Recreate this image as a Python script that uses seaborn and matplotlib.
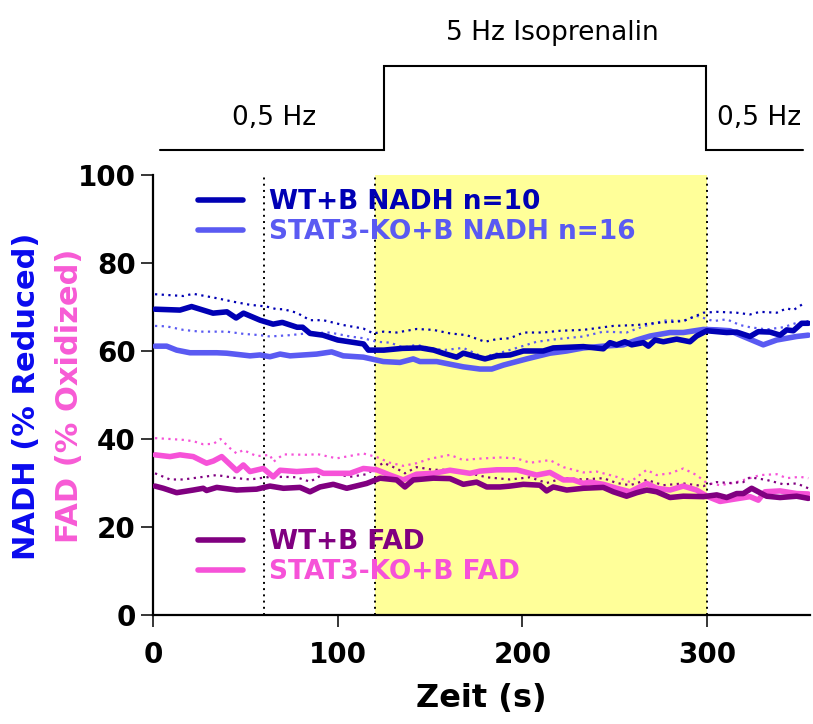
import matplotlib
matplotlib.use("Agg")
import matplotlib.pyplot as plt
import seaborn as sns
import pandas as pd

# ---------------- data ----------------
wt_nadh_t = [1.1, 14.6, 20.9, 32.5, 40, 45, 49, 58, 65, 70, 78, 81, 85, 92, 100, 114, 116.6, 125, 135, 145,
             152, 157, 164.4, 168, 179.7, 186.1, 193.3, 200.5, 211.3, 216.7, 233, 243.8, 247.4, 251, 255.5,
             259.2, 265.5, 268.2, 271.8, 276.3, 283.5, 290.7, 294.3, 299.8, 310.6, 316, 323.2, 327.7, 334.1,
             339.5, 343.1, 346.7, 351.2, 354.8]
wt_nadh = [69.5, 69.3, 70.1, 68.6, 68.9, 67.5, 68.6, 67, 66.1, 66.5, 65.4, 65.4, 64, 63.6, 62.5, 61.6, 60.2,
           60.2, 60.6, 60.7, 60.2, 59.5, 58.6, 59.5, 58.2, 58.9, 59.1, 60, 60, 60.7, 61, 60.5, 61.9, 61.4,
           62.1, 61.4, 61.9, 61.1, 62.5, 62.1, 62.7, 62.1, 63.4, 64.6, 64.2, 64.3, 63.3, 64.4, 64.3, 63.6,
           64.8, 64.6, 66.3, 66.3]

stat_nadh_t = [1.1, 7.4, 12.8, 20, 34.5, 39.9, 52.5, 57.9, 63.3, 68.8, 74.2, 88.6, 96.7, 103, 113.9, 124.7,
               133.7, 140.9, 144.5, 153.6, 168, 177, 183.4, 189.7, 202.3, 214.9, 224, 233, 243.8, 254.6,
               261.9, 269.1, 279.9, 287.1, 298, 305.2, 312.4, 319.6, 330.4, 337.7, 348.5, 354.8]
stat_nadh = [61.1, 61.1, 60.2, 59.6, 59.6, 59.5, 58.9, 59.1, 58.7, 59.3, 58.9, 59.3, 59.8, 58.9, 58.6, 57.6,
             57.4, 58.2, 57.6, 57.6, 56.4, 55.9, 55.9, 56.8, 58.2, 59.5, 60, 60.7, 61.1, 61.4, 62.5, 63.4,
             64.2, 64.2, 64.9, 64.8, 64.6, 63.3, 61.4, 62.5, 63.3, 63.6]

wt_nadh_up_t = [1.1, 16.4, 21.8, 34.5, 43.5, 52.5, 61.5, 66.9, 70.6, 77.8, 85, 92.2, 103, 113.9, 119.3, 124.7,
                131.9, 142.7, 151.8, 160.8, 169.8, 179.7, 186.1, 193.3, 200.5, 211.3, 220.4, 233, 249.2,
                261.9, 272.7, 287.1, 298, 305.2, 316, 323.2, 328.6, 337.7, 343.1, 346.7, 353]
wt_nadh_up = [72.9, 72.5, 73, 72, 71.2, 70.5, 70.1, 69.5, 69.5, 68.7, 67, 67, 65.9, 65.1, 64, 64.4, 64.2, 65,
              64.8, 64, 63.6, 62.1, 62.7, 62.9, 64.2, 64.2, 64.6, 64.8, 65.7, 65.9, 66.4, 66.8, 68.7, 68.9,
              68.7, 68.3, 68.9, 68.7, 69.7, 69.3, 71]

stat_nadh_up_t = [1.1, 7.4, 16.4, 25.4, 39.9, 48.9, 57.9, 63.3, 74.2, 83.2, 95.8, 106.7, 113.9, 121.1, 128.3,
                  135.5, 142.7, 149.9, 157.2, 168, 178.8, 189.7, 196.9, 207.7, 218.6, 233, 243.8, 256.4,
                  265.5, 278.1, 287.1, 294.3, 303.4, 310.6, 317.8, 323.2, 332.2, 341.3, 348.5, 354.8]
stat_nadh_up = [65.7, 65.6, 64.8, 64.4, 64.4, 63.9, 63.6, 63.3, 63.6, 64, 64.2, 63.3, 62.9, 62.1, 61.9, 60.8,
                61.4, 60.7, 60.2, 60.7, 58.6, 59.8, 60.7, 62.1, 62.7, 63.3, 64.4, 64.2, 65.6, 67, 66.8, 68,
                66.8, 67.2, 65.9, 65.4, 64.9, 65.4, 66.4, 66.8]

stat_fad_t = [1.1, 9.2, 14.6, 21.8, 29, 32.7, 37.2, 45.3, 48.9, 52.5, 59.7, 65.1, 68.8, 77.8, 88.6, 92.2,
              106.7, 113.9, 121.1, 128.3, 135.5, 142.7, 151.8, 160.8, 171.6, 177, 186.1, 196.9, 207.7, 214.9,
              222.2, 227.6, 233, 236.6, 243.8, 251, 258.3, 267.3, 272.7, 279.9, 287.1, 294.3, 299.8, 307,
              314.2, 323.2, 327.7, 331.3, 339.5, 348.5, 354.8]
stat_fad = [36.4, 36, 36.4, 36, 34.5, 35, 36, 32.8, 34.1, 32.6, 33.3, 31.4, 32.9, 32.6, 32.9, 32.2, 32.2,
            33.3, 33, 31.8, 30.7, 32, 32.2, 32.9, 32.2, 32.7, 33, 33, 31.8, 32.4, 30.7, 30.7, 29.9, 30.2,
            29.7, 28.8, 28, 29.9, 28.8, 28.4, 29.3, 28.4, 27, 25.8, 26.3, 26.9, 26.1, 28, 28.2, 27.6, 27.5]

wt_fad_t = [1.1, 5.6, 12.8, 21.8, 27.2, 29, 34.5, 45.3, 56.1, 63.3, 70.6, 79.6, 85, 90.4, 97.6, 104.9, 115.7,
            122.9, 131.9, 136.4, 140.9, 151.8, 160.8, 168, 175.2, 180.7, 187.9, 193.3, 200.5, 209.5, 213.1,
            216.7, 224, 233, 243.8, 249.2, 256.4, 261.9, 267.3, 272.7, 279.9, 287.1, 298, 305.2, 310.6,
            316, 319.6, 324.1, 332.2, 339.5, 348.5, 354.8]
wt_fad = [29.3, 28.8, 27.8, 28.4, 28.8, 28.3, 29, 28.4, 28.6, 29.3, 28.8, 29, 28, 29.1, 29.7, 28.8, 29.9,
          31.1, 30.7, 29.1, 30.7, 31.1, 31, 29.7, 30.2, 29.1, 29.1, 29.3, 29.7, 29.5, 28.2, 29.1, 28.4,
          28.8, 29, 28, 27, 27.8, 28.4, 28, 26.7, 27, 26.9, 27.3, 26.7, 27.6, 27.6, 28.8, 27, 26.7, 27, 26.5]

stat_fad_up_t = [1.1, 9.2, 16.4, 21.8, 27.2, 32.7, 36.6, 41.7, 45.3, 48.9, 56.1, 63.3, 65.1, 70.6, 85, 88.6,
                 99.4, 113.9, 121.1, 128.3, 135.5, 142.7, 149.9, 160.8, 168, 175.2, 187.9, 196.9, 204.1,
                 214.9, 222.2, 233, 240.2, 251, 258.3, 267.3, 272.7, 279.9, 287.1, 294.3, 299.8, 307, 314.2,
                 323.2, 328.6, 337.7, 343.1, 350.3, 354.8]
stat_fad_up = [40.2, 40, 39.8, 39.5, 38.8, 38.9, 40, 37.9, 36.7, 37.5, 36.1, 36.4, 34.8, 36.5, 36.4, 36.6,
               35.6, 36.7, 35.9, 34.6, 33.9, 34.5, 35.5, 36.4, 35.2, 35.5, 35.8, 35.6, 34.6, 35.2, 33.6, 32.4,
               32.6, 31.4, 30.2, 33, 31.8, 32.2, 33.3, 31.8, 30, 29.5, 30, 31.1, 31.8, 32, 31.1, 31.4, 31.1]

wt_fad_up_t = [1.1, 9.2, 16.4, 25.4, 34.5, 45.3, 52.5, 61.5, 70.6, 77.8, 85, 92.2, 99.4, 106.7, 115.7, 124.7,
               131.9, 136.4, 142.7, 151.8, 160.8, 171.6, 180.7, 193.3, 204.1, 213.1, 222.2, 233, 243.8, 251,
               258.3, 267.3, 276.3, 287.1, 298, 305.2, 312.4, 319.6, 323.2, 332.2, 341.3, 348.5, 354.8]
wt_fad_up = [32.2, 30.8, 30.8, 31.3, 31.8, 31.1, 30.8, 31.3, 31.4, 31.3, 30.3, 32, 32, 31.4, 32, 34.6, 33.3,
             32.2, 33.6, 33, 33, 32.2, 31.3, 30.8, 31.3, 30, 31.1, 30.8, 31.1, 30, 29.5, 30.7, 29.5, 29.9,
             29.3, 30.2, 30, 30.2, 31.3, 30.7, 29.7, 29.9, 28.8]

labels = ["WT+B NADH n=10", "STAT3-KO+B NADH n=16", "WT+B FAD", "STAT3-KO+B FAD"]
markers_t = [60, 120, 300]          # dotted vertical markers
iso_window = (120, 300)             # shaded stimulation window
x_ticks = [0, 100, 200, 300]
y_ticks = [0, 20, 40, 60, 80, 100]
protocol_t = [4, 125, 299.5, 352]   # protocol step times
protocol_texts = ["0,5 Hz", "5 Hz Isoprenalin", "0,5 Hz"]
protocol_text_t = [65.5, 216, 328]

# ---------------- style ----------------
C_WT_NADH = "#0000B4"
C_KO_NADH = "#5A5AF2"
C_WT_FAD = "#800080"
C_KO_FAD = "#F652D8"

sns.set_style("ticks")
plt.rcParams["font.family"] = ["DejaVu Sans"]
plt.rcParams["text.color"] = "black"
plt.rcParams["axes.labelcolor"] = "black"
plt.rcParams["xtick.color"] = "black"
plt.rcParams["ytick.color"] = "black"
plt.rcParams["axes.edgecolor"] = "black"

W, H = 813, 724
fig = plt.figure(figsize=(W / 100, H / 100), dpi=100)
L, R, T, B = 153, 810, 175, 615
ax = fig.add_axes([L / W, 1 - B / H, (R - L) / W, (B - T) / H])

ax.axvspan(iso_window[0], iso_window[1], color="#FFFF99", lw=0, zorder=0)
for xm in markers_t:
    ax.axvline(xm, color="black", lw=1.4, ls=(0, (1, 2.2)), zorder=1)

dot = (0, (1, 2))
series = [
    (stat_fad_up_t, stat_fad_up, C_KO_FAD, dot, 1.6),
    (wt_fad_up_t, wt_fad_up, C_WT_FAD, dot, 1.6),
    (stat_nadh_up_t, stat_nadh_up, C_KO_NADH, dot, 1.6),
    (wt_nadh_up_t, wt_nadh_up, C_WT_NADH, dot, 1.6),
]
for t, v, c, ls, lw in series:
    sns.lineplot(x=t, y=v, ax=ax, color=c, lw=lw, linestyle=ls, estimator=None, sort=False, zorder=2)

handles = {}
main = [
    (stat_fad_t, stat_fad, C_KO_FAD, labels[3]),
    (wt_fad_t, wt_fad, C_WT_FAD, labels[2]),
    (stat_nadh_t, stat_nadh, C_KO_NADH, labels[1]),
    (wt_nadh_t, wt_nadh, C_WT_NADH, labels[0]),
]
for t, v, c, lab in main:
    sns.lineplot(x=t, y=v, ax=ax, color=c, lw=4.0, estimator=None, sort=False, zorder=3)
    ln = ax.lines[-1]
    ln.set_label(lab)
    ln.set_solid_joinstyle("round")
    handles[lab] = ln

ax.set_xlim(0, 355.7)
ax.set_ylim(0, 100)
ax.set_xticks(x_ticks)
ax.set_yticks(y_ticks)
ax.set_xlabel("")
ax.set_ylabel("")
for s in ["top", "right"]:
    ax.spines[s].set_visible(False)
for s in ["left", "bottom"]:
    ax.spines[s].set_linewidth(1.6)
    ax.spines[s].set_color("black")
ax.tick_params(axis="both", direction="out", length=8.5, width=1.1, color="black", labelcolor="black")
ax.tick_params(axis="x", pad=10)
ax.tick_params(axis="y", pad=4)
for lbl in ax.get_xticklabels() + ax.get_yticklabels():
    lbl.set_fontsize(20)
    lbl.set_fontweight("bold")

ax.set_xlabel("Zeit (s)", fontsize=23, fontweight="bold", labelpad=10, color="black")

fig.text(27 / W, 1 - 396 / H, "NADH (% Reduced)", rotation=90, ha="center", va="center",
         fontsize=22, fontweight="bold", color="#0A0AEE")
fig.text(70 / W, 1 - 396 / H, "FAD (% Oxidized)", rotation=90, ha="center", va="center",
         fontsize=22, fontweight="bold", color="#F75BD5")

leg_kw = dict(loc="upper left", frameon=False, borderpad=0, borderaxespad=0,
              handlelength=1.7, handletextpad=1.0, labelspacing=0.15,
              prop={"weight": "bold", "size": 19}, labelcolor="linecolor")
leg1 = ax.legend(handles=[handles[labels[0]], handles[labels[1]]],
                 bbox_to_anchor=((198 - L) / (R - L), (B - 189) / (B - T)), **leg_kw)
ax.add_artist(leg1)
leg2 = ax.legend(handles=[handles[labels[2]], handles[labels[3]]],
                 bbox_to_anchor=((198 - L) / (R - L), (B - 529) / (B - T)), **leg_kw)

# ---------------- protocol diagram ----------------
TOPH = 172
axp = fig.add_axes([L / W, 1 - TOPH / H, (R - L) / W, TOPH / H])
axp.set_xlim(ax.get_xlim())
axp.set_ylim(TOPH, 0)
axp.axis("off")
low, high = 150, 66
px = [protocol_t[0], protocol_t[1], protocol_t[1], protocol_t[2], protocol_t[2], protocol_t[3]]
py = [low, low, high, high, low, low]
axp.plot(px, py, color="black", lw=1.5, solid_joinstyle="miter")
axp.text(protocol_text_t[0], 125, protocol_texts[0], ha="center", va="baseline", fontsize=19, color="black")
axp.text(protocol_text_t[1], 40, protocol_texts[1], ha="center", va="baseline", fontsize=19, color="black")
axp.text(protocol_text_t[2], 125, protocol_texts[2], ha="center", va="baseline", fontsize=19, color="black")

fig.savefig("out.png", dpi=100)
